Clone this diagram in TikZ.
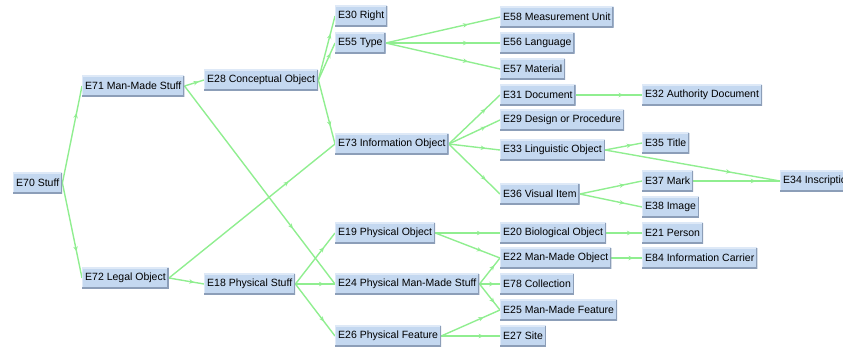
\documentclass[tikz,border=0pt]{standalone}
\usepackage{fontspec}
\setmainfont{Liberation Sans}
\usetikzlibrary{arrows.meta,decorations.markings,backgrounds}
\definecolor{boxfill}{RGB}{196,216,240}
\definecolor{boxdark}{RGB}{140,158,184}
\definecolor{boxlight}{RGB}{222,233,247}
\definecolor{edgegreen}{RGB}{144,238,144}
\tikzset{
  box/.style={fill=boxfill, font=\fontsize{10.5}{12}\selectfont, inner xsep=3pt, inner ysep=0pt,
    minimum height=20.5pt, anchor=west,
    path picture={
      \draw[boxlight,line width=2pt] (path picture bounding box.south west) -- (path picture bounding box.north west) -- (path picture bounding box.north east);
      \draw[boxdark,line width=2.6pt] (path picture bounding box.south west) -- (path picture bounding box.south east) -- (path picture bounding box.north east);
    }},
  edge/.style={draw=edgegreen, line width=1.4pt, postaction={decorate},
    decoration={markings, mark=at position 0.72 with {\arrow[edgegreen]{Stealth[length=5pt,width=4.5pt]}}}}
}
\begin{document}
\begin{tikzpicture}[x=1pt,y=-1pt]
\useasboundingbox (0,0) rectangle (843,346);
\clip (0,0) rectangle (843,346);
\node[box] (e70) at (13,183) {E70 Stuff};
\node[box] (e71) at (82,86) {E71 Man-Made Stuff};
\node[box] (e72) at (82,278) {E72 Legal Object};
\node[box] (e28) at (204,80) {E28 Conceptual Object};
\node[box] (e18) at (204,284) {E18 Physical Stuff};
\node[box] (e30) at (335,16) {E30 Right};
\node[box] (e55) at (335,43) {E55 Type};
\node[box] (e73) at (335,144) {E73 Information Object};
\node[box] (e19) at (335,233) {E19 Physical Object};
\node[box] (e24) at (335,284) {E24 Physical Man-Made Stuff};
\node[box] (e26) at (335,336) {E26 Physical Feature};
\node[box] (e58) at (500,17) {E58 Measurement Unit};
\node[box] (e56) at (500,43) {E56 Language};
\node[box] (e57) at (500,69) {E57 Material};
\node[box] (e31) at (500,95) {E31 Document};
\node[box] (e29) at (500,120) {E29 Design or Procedure};
\node[box] (e33) at (500,150) {E33 Linguistic Object};
\node[box] (e36) at (500,194) {E36 Visual Item};
\node[box] (e20) at (500,233) {E20 Biological Object};
\node[box] (e22) at (500,258) {E22 Man-Made Object};
\node[box] (e78) at (500,284) {E78 Collection};
\node[box] (e25) at (500,310) {E25 Man-Made Feature};
\node[box] (e27) at (500,336) {E27 Site};
\node[box] (e32) at (642,95) {E32 Authority Document};
\node[box] (e35) at (642,143) {E35 Title};
\node[box] (e37) at (642,181) {E37 Mark};
\node[box] (e38) at (642,207) {E38 Image};
\node[box] (e21) at (642,233) {E21 Person};
\node[box] (e84) at (642,258) {E84 Information Carrier};
\node[box] (e34) at (780,181) {E34 Inscription};
\begin{scope}[on background layer]
\foreach \a/\b in {e70/e71,e70/e72,e71/e28,e71/e24,e72/e73,e72/e18,e28/e30,e28/e55,e28/e73,
  e55/e58,e55/e56,e55/e57,e73/e31,e73/e29,e73/e33,e73/e36,e31/e32,e33/e35,e33/e34,e36/e37,e36/e38,
  e37/e34,e18/e19,e18/e24,e18/e26,e19/e20,e19/e22,e20/e21,e22/e84,e24/e22,e24/e78,e24/e25,e26/e25,e26/e27}
  \draw[edge] (\a.east) -- (\b.west);
\end{scope}
\end{tikzpicture}
\end{document}
